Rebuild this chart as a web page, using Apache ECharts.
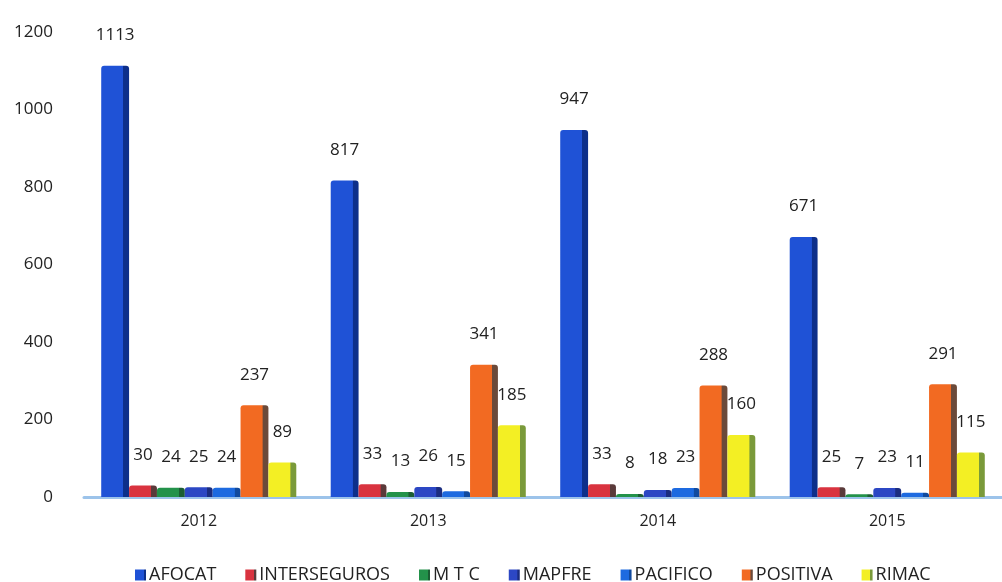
<!DOCTYPE html>
<html><head><meta charset="utf-8">
<script src="https://cdn.jsdelivr.net/npm/echarts@6/dist/echarts.min.js"></script>
<style>html,body{margin:0;padding:0;background:#fff}#c{width:1002px;height:582px}</style>
</head><body><div id="c"></div>
<script>
const categories = ['2012', '2013', '2014', '2015'];
const seriesNames = ['AFOCAT', 'INTERSEGUROS', 'M T C', 'MAPFRE', 'PACIFICO', 'POSITIVA', 'RIMAC'];
const afocat = [1113, 817, 947, 671];
const interseguros = [30, 33, 33, 25];
const mtc = [24, 13, 8, 7];
const mapfre = [25, 26, 18, 23];
const pacifico = [24, 15, 23, 11];
const positiva = [237, 341, 288, 291];
const rimac = [89, 185, 160, 115];
const yTicks = [0, 200, 400, 600, 800, 1000, 1200];

const values = [afocat, interseguros, mtc, mapfre, pacifico, positiva, rimac];
const colors = ['#1f52d6', '#d9333f', '#23924a', '#2c47c4', '#1d6ae0', '#f26a22', '#f3ef24'];
const sides = ['#0d2f8a', '#5a3a3a', '#1b5e33', '#1b2d80', '#114a9e', '#6b4a3a', '#7a9a3a'];

function grad(c, s) {
  return new echarts.graphic.LinearGradient(0, 0, 1, 0, [
    {offset: 0, color: c}, {offset: 0.78, color: c}, {offset: 0.8, color: s}, {offset: 1, color: s}
  ]);
}

const chart = echarts.init(document.getElementById('c'));
chart.setOption({
  animation: false,
  textStyle: {fontFamily: 'Open Sans, Noto Sans, sans-serif'},
  color: colors,
  legend: {
    top: 561, left: 130,
    itemWidth: 11, itemHeight: 11, itemGap: 29,
    icon: 'rect',
    textStyle: {fontSize: 18, color: '#222', padding: [0, 0, 0, -2]},
    data: seriesNames
  },
  grid: {left: 84, top: 32, width: 944, height: 465},
  xAxis: {
    type: 'category', data: categories,
    axisLine: {lineStyle: {color: '#9cc3ea', width: 3}},
    axisTick: {show: false},
    axisLabel: {fontSize: 16, color: '#222', margin: 16}
  },
  yAxis: {
    type: 'value', min: 0, max: 1200, interval: 200,
    axisLine: {show: false}, axisTick: {show: false},
    splitLine: {show: false},
    axisLabel: {fontSize: 17, color: '#222', margin: 31, formatter: v => String(v)}
  },
  series: values.map((v, i) => ({
    name: seriesNames[i], type: 'bar', data: v,
    barGap: '0%', barCategoryGap: '15%',
    itemStyle: {color: grad(colors[i], sides[i]), borderRadius: [3, 3, 0, 0]},
    label: {show: true, position: 'top', fontSize: 17, color: '#222', distance: 22}
  }))
});
</script></body></html>
